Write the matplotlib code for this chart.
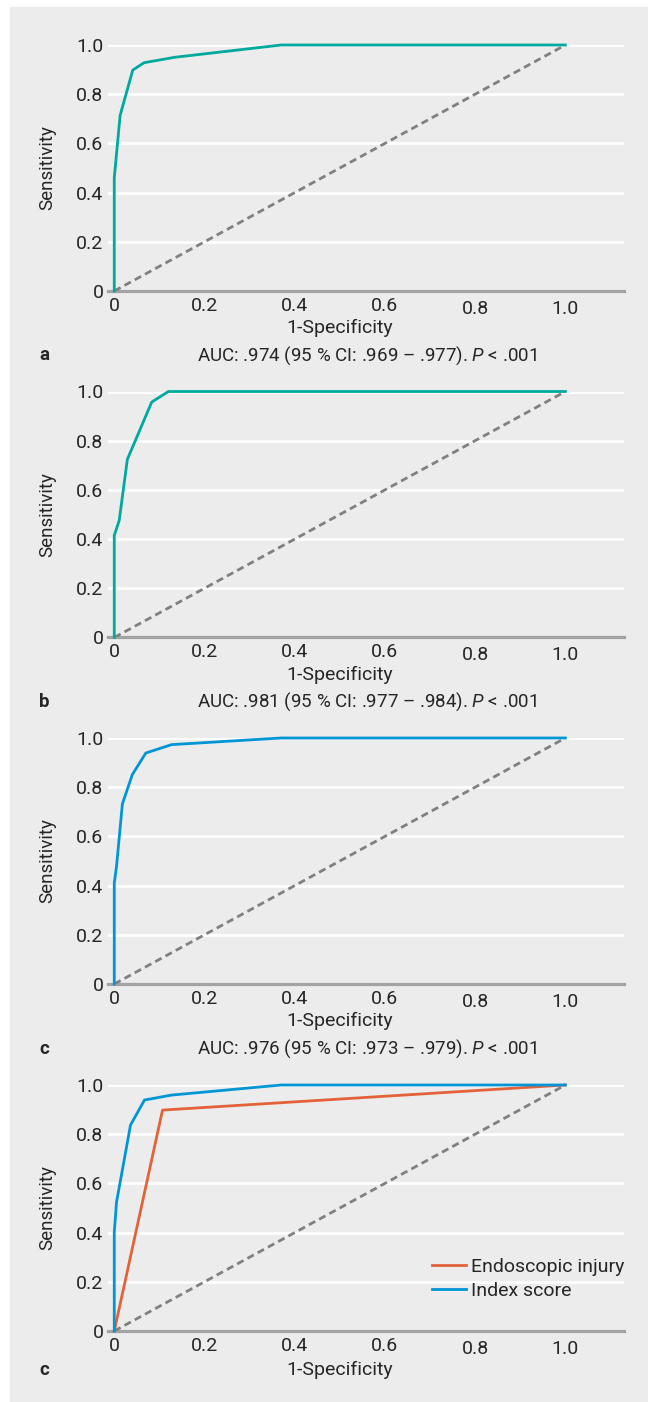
import matplotlib
matplotlib.use("Agg")
import matplotlib.pyplot as plt
from matplotlib.patches import Rectangle
from matplotlib.transforms import ScaledTranslation

plt.rcParams['font.family'] = ['Roboto', 'DejaVu Sans']
plt.rcParams['mathtext.fontset'] = 'custom'
plt.rcParams['mathtext.it'] = 'Roboto:italic'
plt.rcParams['mathtext.rm'] = 'Roboto'

# ROC curves
fpr_a = [0, 0, 0.013, 0.041, 0.066, 0.134, 0.37, 1.0]
tpr_a = [0, 0.46, 0.714, 0.898, 0.928, 0.95, 1.0, 1.0]

fpr_b = [0, 0, 0.011, 0.029, 0.083, 0.12, 1.0]
tpr_b = [0, 0.415, 0.476, 0.724, 0.957, 1.0, 1.0]

fpr_c = [0, 0, 0.005, 0.018, 0.04, 0.07, 0.127, 0.37, 1.0]
tpr_c = [0, 0.41, 0.478, 0.732, 0.851, 0.939, 0.973, 1.0, 1.0]

fpr_idx = [0, 0, 0.005, 0.036, 0.067, 0.127, 0.37, 1.0]
tpr_idx = [0, 0.401, 0.524, 0.837, 0.939, 0.959, 1.0, 1.0]

fpr_endo = [0, 0.107, 1.0]
tpr_endo = [0, 0.898, 1.0]

ticks = [0, 0.2, 0.4, 0.6, 0.8, 1.0]
tick_labels = ['0', '0.2', '0.4', '0.6', '0.8', '1.0']

captions = ['AUC: .974 (95 % CI: .969 – .977). $P$ < .001',
            'AUC: .981 (95 % CI: .977 – .984). $P$ < .001',
            'AUC: .976 (95 % CI: .973 – .979). $P$ < .001',
            None]
letters = ['a', 'b', 'c', 'c']

teal = '#00a99d'
blue = '#0096d6'
orange = '#e2623a'
txt = '#262626'
W, H = 648, 1402
fs = 13.5
tfs = 14

fig = plt.figure(figsize=(W / 100, H / 100), dpi=100)
fig.patches.append(Rectangle((10 / W, 0), 1, (H - 7) / H, transform=fig.transFigure,
                             color='#ebeceb', zorder=-1))

zero_px = [291, 637.5, 984, 1331]
left = 108.4 / W
width = 515.6 / W
axes = []
for y0 in zero_px:
    ax = fig.add_axes([left, (H - y0) / H, width, 246 / H])
    ax.set_facecolor('none')
    ax.set_xlim(-0.013, 1.13)
    ax.set_ylim(0, 1.0)
    for s in ['top', 'right', 'left']:
        ax.spines[s].set_visible(False)
    ax.spines['bottom'].set_color('#a3a3a3')
    ax.spines['bottom'].set_linewidth(2.3)
    ax.spines['bottom'].set_zorder(1)
    ax.set_yticks(ticks)
    ax.set_yticklabels(tick_labels)
    ax.set_xticks(ticks)
    ax.set_xticklabels(tick_labels)
    ax.tick_params(length=0, labelsize=tfs, colors=txt)
    ax.tick_params(axis='y', pad=3.5)
    ax.tick_params(axis='x', pad=4)
    for yv in ticks[1:]:
        ax.axhline(yv, color='white', lw=2, zorder=0.5)
    ax.plot([0, 1], [0, 1], color='#808080', lw=2, dashes=(2.6, 1.6), zorder=2)
    # the last two x labels sit a little lower in the original
    for lab in ax.get_xticklabels()[4:]:
        lab.set_transform(lab.get_transform() + ScaledTranslation(0, -3 / 100, fig.dpi_scale_trans))
    axes.append(ax)

axes[0].plot(fpr_a, tpr_a, color=teal, lw=2, zorder=3, clip_on=False)
axes[1].plot(fpr_b, tpr_b, color=teal, lw=2, zorder=3, clip_on=False)
axes[2].plot(fpr_c, tpr_c, color=blue, lw=2, zorder=3, clip_on=False)
axes[3].plot(fpr_endo, tpr_endo, color=orange, lw=2, zorder=3, clip_on=False, label='Endoscopic injury')
axes[3].plot(fpr_idx, tpr_idx, color=blue, lw=2, zorder=4, clip_on=False, label='Index score')
axes[3].legend(loc='center right', bbox_to_anchor=(1.0, 0.212), frameon=False, fontsize=tfs,
               handlelength=1.75, handletextpad=0.25, borderpad=0, borderaxespad=0,
               labelspacing=0.3, labelcolor=txt)

for i, (ax, y0) in enumerate(zip(axes, zero_px)):
    xl = 37 if i < 3 else 39
    fig.text(339.5 / W, 1 - (y0 + xl) / H, '1-Specificity', ha='center', va='center',
             fontsize=tfs, color=txt)
    fig.text(47 / W, 1 - (y0 - 123) / H, 'Sensitivity', ha='center', va='center',
             rotation=90, fontsize=fs, color=txt)
    if captions[i] is not None:
        cy = y0 + 64.5
        fig.text(367 / W, 1 - cy / H, captions[i], ha='center', va='center', fontsize=fs, color=txt)
    else:
        cy = y0 + xl
    fig.text(39 / W, 1 - cy / H, letters[i], ha='left', va='center', fontsize=fs,
             fontweight='bold', color=txt)

fig.savefig('out.png', dpi=100)
